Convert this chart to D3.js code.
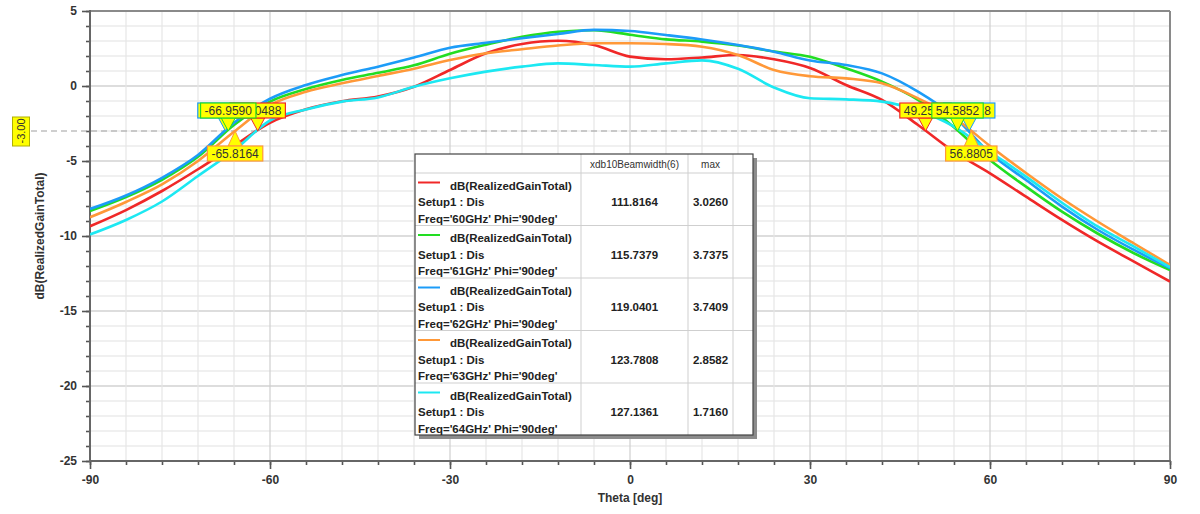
<!DOCTYPE html>
<html><head><meta charset="utf-8">
<script src="https://cdn.jsdelivr.net/npm/d3@7"></script>
<style>
body{margin:0;background:#fff;}
svg{display:block;font-family:Arial,"Liberation Sans",sans-serif;}
</style>
</head><body>
<svg id="c" width="1200" height="514"></svg>
<script>
// ---------- data ----------
const theta = [-90,-84,-78,-72,-66,-60,-54,-48,-42,-36,-30,-24,-18,-12,-6,0,6,12,18,24,30,36,42,48,54,60,66,72,78,84,90];
const gain60 = [-9.35,-8.27,-7.0,-5.55,-4.0,-2.45,-1.55,-1.02,-0.7,-0.05,1.07,2.18,2.8,3.02,2.73,1.96,1.78,1.9,2.07,1.78,1.2,0.07,-0.93,-2.6,-4.38,-5.82,-7.38,-8.93,-10.38,-11.71,-13.04];
const gain61 = [-8.33,-7.4,-6.25,-4.72,-2.6,-1.04,-0.2,0.4,0.88,1.38,2.15,2.75,3.28,3.62,3.72,3.42,3.11,2.96,2.7,2.3,1.95,1.18,0.29,-0.93,-2.75,-4.93,-6.71,-8.38,-9.85,-11.15,-12.27];
const gain62 = [-8.2,-7.3,-6.12,-4.6,-2.45,-0.85,0.07,0.73,1.29,1.9,2.55,2.88,3.18,3.47,3.74,3.67,3.4,3.1,2.73,2.29,1.7,1.4,0.84,-0.38,-2.04,-4.49,-6.27,-8.04,-9.6,-10.93,-12.15];
const gain63 = [-8.75,-7.73,-6.56,-5.0,-3.05,-1.27,-0.38,0.18,0.67,1.15,1.73,2.18,2.45,2.7,2.85,2.85,2.8,2.62,2.07,1.07,0.65,0.51,0.18,-0.82,-2.1,-4.0,-5.8,-7.5,-9.05,-10.5,-11.93];
const gain64 = [-9.9,-8.93,-7.7,-6.0,-4.3,-2.3,-1.56,-1.04,-0.76,-0.05,0.51,0.96,1.29,1.51,1.4,1.29,1.51,1.71,1.15,-0.1,-0.82,-0.89,-1.04,-1.64,-2.71,-4.38,-6.04,-7.78,-9.38,-10.71,-12.09];
const seriesValues = [gain60, gain61, gain62, gain63, gain64];
const seriesFreq = ["60GHz","61GHz","62GHz","63GHz","64GHz"];
const seriesColors = ["#f02828","#22dd22","#1c9cf8","#ff9838","#1ce8f2"];
const beamwidth = ["111.8164","115.7379","119.0401","123.7808","127.1361"];
const maxGain = ["3.0260","3.7375","3.7409","2.8582","1.7160"];
const yTicks = [5,0,-5,-10,-15,-20,-25];
const xTicks = [-90,-60,-30,0,30,60,90];
const refLevel = -3;
// markers at -3 dB crossings (drawn in this order)
const markerSeries = [2,0,1,3, 0,2,1,3];
const markerTheta  = [-67.4213,-62.0488,-66.9590,-65.8164, 49.2517,56.5318,54.5852,56.8805];
const markerBelow  = [false,false,false,true, false,false,false,true];

// ---------- layout ----------
const svg = d3.select("#c");
const L=90, R=1170, T=11, B=461;
const x = d3.scaleLinear().domain([-90,90]).range([L,R]);
const y = d3.scaleLinear().domain([-25,5]).range([B,T]);
const fmtInt = v => String(v);

svg.append("rect").attr("width",1200).attr("height",514).attr("fill","#fff");

// grid
const grid = svg.append("g");
d3.range(-25,6,1).forEach(v=>{
  grid.append("line").attr("x1",L).attr("x2",R).attr("y1",y(v)).attr("y2",y(v))
    .attr("stroke", v%5===0 ? "#d2d2d2" : "#ebebeb").attr("stroke-width", v%5===0?1.3:1.6);
});
d3.range(-90,91,6).forEach(v=>{
  grid.append("line").attr("x1",x(v)).attr("x2",x(v)).attr("y1",T).attr("y2",B)
    .attr("stroke", v%30===0 ? "#cfcfcf" : "#e6e6e6").attr("stroke-width",1.2);
});

// frame
svg.append("line").attr("x1",L).attr("x2",R).attr("y1",T).attr("y2",T).attr("stroke","#8a8a8a").attr("stroke-width",2);
svg.append("line").attr("x1",R).attr("x2",R).attr("y1",T).attr("y2",B).attr("stroke","#8a8a8a").attr("stroke-width",2);

// axes
const axL = d3.axisLeft(y).tickValues(yTicks).tickSize(8).tickPadding(5).tickFormat(fmtInt);
const axLm = d3.axisLeft(y).tickValues(d3.range(-25,6,1)).tickSize(4).tickFormat("");
const axB = d3.axisBottom(x).tickValues(xTicks).tickSize(8).tickPadding(6).tickFormat(fmtInt);
const axBm = d3.axisBottom(x).tickValues(d3.range(-90,91,6)).tickSize(4).tickFormat("");
function styleAxis(g){
  g.select(".domain").remove();
  g.selectAll("line").attr("stroke","#555").attr("stroke-width",1.6);
  g.selectAll("text").attr("fill","#333").attr("font-size","12px").attr("font-weight","bold").attr("font-family","Arial, 'Liberation Sans', sans-serif");
}
svg.append("g").attr("transform",`translate(${L},0)`).call(axLm).call(styleAxis);
svg.append("g").attr("transform",`translate(${L},0)`).call(axL).call(styleAxis);
svg.append("g").attr("transform",`translate(0,${B})`).call(axBm).call(styleAxis);
svg.append("g").attr("transform",`translate(0,${B})`).call(axB).call(styleAxis);
svg.append("line").attr("x1",L).attr("x2",L).attr("y1",T-1).attr("y2",B+1).attr("stroke","#666").attr("stroke-width",2);
svg.append("line").attr("x1",L-1).attr("x2",R+1).attr("y1",B).attr("y2",B).attr("stroke","#666").attr("stroke-width",2);

// titles
svg.append("text").attr("x",(L+R)/2).attr("y",502).attr("text-anchor","middle")
  .attr("font-size","12px").attr("font-weight","bold").attr("fill","#333").text("Theta [deg]");
svg.append("text").attr("transform",`translate(44,${(T+B)/2}) rotate(-90)`).attr("text-anchor","middle")
  .attr("font-size","12px").attr("font-weight","bold").attr("fill","#333").text("dB(RealizedGainTotal)");

// -3 dB reference
svg.append("line").attr("x1",31).attr("x2",R).attr("y1",y(refLevel)).attr("y2",y(refLevel))
  .attr("stroke","#a0a0a0").attr("stroke-width",1.2).attr("stroke-dasharray","6,4");
svg.append("rect").attr("x",12.5).attr("y",y(refLevel)-14).attr("width",17).attr("height",29)
  .attr("fill","#ffff00").attr("stroke","#b0b000").attr("stroke-width",1);
svg.append("text").attr("transform",`translate(25,${y(refLevel)}) rotate(-90)`).attr("text-anchor","middle")
  .attr("font-size","11px").attr("fill","#333").text(refLevel.toFixed(2));

// curves
svg.append("clipPath").attr("id","clip").append("rect").attr("x",L).attr("y",T).attr("width",R-L).attr("height",B-T);
const line = d3.line().x(d=>x(d[0])).y(d=>y(d[1])).curve(d3.curveMonotoneX);
const cg = svg.append("g").attr("clip-path","url(#clip)");
seriesValues.forEach((vals,i)=>{
  cg.append("path").datum(theta.map((t,j)=>[t,vals[j]])).attr("d",line)
    .attr("fill","none").attr("stroke",seriesColors[i]).attr("stroke-width",2.6).attr("stroke-linejoin","round");
});

// markers
const mg = svg.append("g");
markerTheta.forEach((t,k)=>{
  const col = seriesColors[markerSeries[k]];
  const tx = x(t), ty = y(refLevel);
  const below = markerBelow[k];
  const g = mg.append("g");
  const txt = g.append("text").attr("font-size","12px").attr("fill","#333").attr("text-anchor","middle").text(t.toFixed(4));
  const w = txt.node().getComputedTextLength() + 8;
  const h = 15;
  const by = below ? ty+15 : ty-13-h;
  const py = below ? by : by+h;
  g.insert("path","text").attr("d",`M${tx-7},${py} L${tx},${ty} L${tx+7},${py} Z`)
    .attr("fill","#ffff00").attr("stroke",col).attr("stroke-width",1);
  g.insert("rect","text").attr("x",tx-w/2).attr("y",by).attr("width",w).attr("height",h)
    .attr("fill","#ffff00").attr("stroke",col).attr("stroke-width",1.2);
  txt.attr("x",tx).attr("y",by+h/2+4.3);
});

// legend table
const LX=415, LY=154, LW=338, LH=281;
const colX = [LX, 581, 688, 733, LX+LW];
const rowY = [LY, 173, 225.5, 278, 330.5, 383, LY+LH];
const lg = svg.append("g");
lg.append("rect").attr("x",LX+4).attr("y",LY+4).attr("width",LW).attr("height",LH).attr("fill","#8c8c8c");
lg.append("rect").attr("x",LX).attr("y",LY).attr("width",LW).attr("height",LH).attr("fill","#fff");
colX.slice(1,4).forEach(cx=>lg.append("line").attr("x1",cx).attr("x2",cx).attr("y1",LY).attr("y2",LY+LH).attr("stroke","#cfcfcf"));
rowY.slice(1,6).forEach(ry=>lg.append("line").attr("x1",LX).attr("x2",LX+LW).attr("y1",ry).attr("y2",ry).attr("stroke","#cfcfcf"));
lg.append("rect").attr("x",LX).attr("y",LY).attr("width",LW).attr("height",LH).attr("fill","none").attr("stroke","#444").attr("stroke-width",1.2);
lg.append("text").attr("x",(colX[1]+colX[2])/2).attr("y",168).attr("text-anchor","middle").attr("font-size","10px").attr("fill","#333").text("xdb10Beamwidth(6)");
lg.append("text").attr("x",(colX[2]+colX[3])/2).attr("y",168).attr("text-anchor","middle").attr("font-size","10px").attr("fill","#333").text("max");
seriesFreq.forEach((f,i)=>{
  const top = rowY[i+1];
  lg.append("line").attr("x1",418).attr("x2",440).attr("y1",top+9.5).attr("y2",top+9.5).attr("stroke",seriesColors[i]).attr("stroke-width",2);
  const tf = s=>s.attr("font-size","11.5px").attr("font-weight","bold").attr("fill","#222");
  lg.append("text").attr("x",450).attr("y",top+16.5).text("dB(RealizedGainTotal)").call(tf);
  lg.append("text").attr("x",418).attr("y",top+33).text("Setup1 : Dis").call(tf);
  lg.append("text").attr("x",418).attr("y",top+49.5).text(`Freq='${f}' Phi='90deg'`).call(tf);
  lg.append("text").attr("x",(colX[1]+colX[2])/2).attr("y",top+33).attr("text-anchor","middle").text(beamwidth[i]).call(tf);
  lg.append("text").attr("x",(colX[2]+colX[3])/2).attr("y",top+33).attr("text-anchor","middle").text(maxGain[i]).call(tf);
});
</script>
</body></html>
